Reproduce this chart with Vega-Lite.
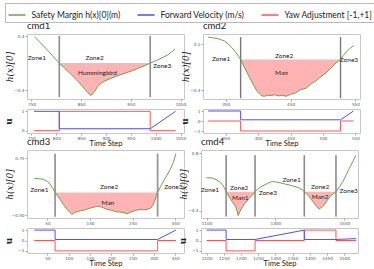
{
"$schema": "https://vega.github.io/schema/vega-lite/v6.json",
"padding": {"left": 3, "top": 2, "right": 0, "bottom": 0},
"spacing": -12,
"datasets": {
"g": [
{"p":"cmd1","t":756,"h":0.39},{"p":"cmd1","t":768,"h":0.3},{"p":"cmd1","t":781,"h":0.2},{"p":"cmd1","t":794,"h":0.095},
{"p":"cmd1","t":806,"h":0,"z":"a"},{"p":"cmd1","t":816,"h":-0.07,"z":"a"},{"p":"cmd1","t":828,"h":-0.155,"z":"a"},{"p":"cmd1","t":840,"h":-0.24,"z":"a"},
{"p":"cmd1","t":851,"h":-0.33,"z":"a"},{"p":"cmd1","t":859,"h":-0.4,"z":"a"},{"p":"cmd1","t":864,"h":-0.44,"z":"a"},{"p":"cmd1","t":870,"h":-0.48,"z":"a"},
{"p":"cmd1","t":876,"h":-0.43,"z":"a"},{"p":"cmd1","t":883,"h":-0.35,"z":"a"},{"p":"cmd1","t":891,"h":-0.29,"z":"a"},{"p":"cmd1","t":902,"h":-0.25,"z":"a"},
{"p":"cmd1","t":914,"h":-0.215,"z":"a"},{"p":"cmd1","t":926,"h":-0.18,"z":"a"},{"p":"cmd1","t":940,"h":-0.145,"z":"a"},{"p":"cmd1","t":954,"h":-0.11,"z":"a"},
{"p":"cmd1","t":967,"h":-0.07,"z":"a"},{"p":"cmd1","t":979,"h":-0.035,"z":"a"},{"p":"cmd1","t":989,"h":0,"z":"a"},
{"p":"cmd1","t":1000,"h":0.035},{"p":"cmd1","t":1012,"h":0.075},{"p":"cmd1","t":1024,"h":0.12},{"p":"cmd1","t":1032,"h":0.165},{"p":"cmd1","t":1039,"h":0.21},
{"p":"cmd2","t":323,"h":0.29},{"p":"cmd2","t":338,"h":0.27},{"p":"cmd2","t":348,"h":0.24},{"p":"cmd2","t":354,"h":0.2},{"p":"cmd2","t":360,"h":0.15},{"p":"cmd2","t":365,"h":0.1},{"p":"cmd2","t":370,"h":0.04},
{"p":"cmd2","t":373,"h":0,"z":"a"},{"p":"cmd2","t":380,"h":-0.12,"z":"a"},{"p":"cmd2","t":388,"h":-0.25,"z":"a"},{"p":"cmd2","t":393,"h":-0.33,"z":"a"},{"p":"cmd2","t":398,"h":-0.405,"z":"a"},
{"p":"cmd2","t":403,"h":-0.45,"z":"a"},{"p":"cmd2","t":406,"h":-0.47,"z":"a"},{"p":"cmd2","t":410,"h":-0.475,"z":"a"},{"p":"cmd2","t":415,"h":-0.46,"z":"a"},{"p":"cmd2","t":420,"h":-0.465,"z":"a"},
{"p":"cmd2","t":426,"h":-0.455,"z":"a"},{"p":"cmd2","t":432,"h":-0.47,"z":"a"},{"p":"cmd2","t":437,"h":-0.46,"z":"a"},{"p":"cmd2","t":443,"h":-0.475,"z":"a"},{"p":"cmd2","t":450,"h":-0.45,"z":"a"},
{"p":"cmd2","t":458,"h":-0.43,"z":"a"},{"p":"cmd2","t":465,"h":-0.39,"z":"a"},{"p":"cmd2","t":474,"h":-0.37,"z":"a"},{"p":"cmd2","t":482,"h":-0.31,"z":"a"},{"p":"cmd2","t":490,"h":-0.27,"z":"a"},
{"p":"cmd2","t":497,"h":-0.22,"z":"a"},{"p":"cmd2","t":505,"h":-0.17,"z":"a"},{"p":"cmd2","t":512,"h":-0.11,"z":"a"},{"p":"cmd2","t":518,"h":-0.06,"z":"a"},{"p":"cmd2","t":523,"h":-0.025,"z":"a"},
{"p":"cmd2","t":527,"h":0,"z":"a"},{"p":"cmd2","t":531,"h":0.05},{"p":"cmd2","t":536,"h":0.1},{"p":"cmd2","t":541,"h":0.14},{"p":"cmd2","t":547,"h":0.18},
{"p":"cmd3","t":19,"h":0.31},{"p":"cmd3","t":30,"h":0.3},{"p":"cmd3","t":40,"h":0.29},{"p":"cmd3","t":50,"h":0.24},{"p":"cmd3","t":56,"h":0.18},{"p":"cmd3","t":62,"h":0.1},
{"p":"cmd3","t":68,"h":0,"z":"a"},{"p":"cmd3","t":75,"h":-0.09,"z":"a"},{"p":"cmd3","t":82,"h":-0.18,"z":"a"},{"p":"cmd3","t":88,"h":-0.27,"z":"a"},{"p":"cmd3","t":95,"h":-0.36,"z":"a"},
{"p":"cmd3","t":102,"h":-0.43,"z":"a"},{"p":"cmd3","t":108,"h":-0.48,"z":"a"},{"p":"cmd3","t":114,"h":-0.44,"z":"a"},{"p":"cmd3","t":120,"h":-0.42,"z":"a"},{"p":"cmd3","t":128,"h":-0.4,"z":"a"},
{"p":"cmd3","t":135,"h":-0.39,"z":"a"},{"p":"cmd3","t":145,"h":-0.36,"z":"a"},{"p":"cmd3","t":155,"h":-0.33,"z":"a"},{"p":"cmd3","t":165,"h":-0.31,"z":"a"},{"p":"cmd3","t":174,"h":-0.31,"z":"a"},
{"p":"cmd3","t":182,"h":-0.34,"z":"a"},{"p":"cmd3","t":190,"h":-0.37,"z":"a"},{"p":"cmd3","t":200,"h":-0.39,"z":"a"},{"p":"cmd3","t":210,"h":-0.42,"z":"a"},{"p":"cmd3","t":220,"h":-0.43,"z":"a"},
{"p":"cmd3","t":230,"h":-0.44,"z":"a"},{"p":"cmd3","t":237,"h":-0.47,"z":"a"},{"p":"cmd3","t":244,"h":-0.44,"z":"a"},{"p":"cmd3","t":252,"h":-0.41,"z":"a"},{"p":"cmd3","t":260,"h":-0.39,"z":"a"},
{"p":"cmd3","t":268,"h":-0.37,"z":"a"},{"p":"cmd3","t":276,"h":-0.38,"z":"a"},{"p":"cmd3","t":284,"h":-0.37,"z":"a"},{"p":"cmd3","t":292,"h":-0.35,"z":"a"},{"p":"cmd3","t":298,"h":-0.28,"z":"a"},
{"p":"cmd3","t":302,"h":-0.19,"z":"a"},{"p":"cmd3","t":306,"h":-0.09,"z":"a"},{"p":"cmd3","t":309,"h":0,"z":"a"},
{"p":"cmd3","t":316,"h":0.13},{"p":"cmd3","t":323,"h":0.25},{"p":"cmd3","t":331,"h":0.38},{"p":"cmd3","t":339,"h":0.51},{"p":"cmd3","t":346,"h":0.66},{"p":"cmd3","t":352,"h":0.85},
{"p":"cmd4","t":1100,"h":0.29},{"p":"cmd4","t":1110,"h":0.29},{"p":"cmd4","t":1118,"h":0.28},{"p":"cmd4","t":1128,"h":0.25},{"p":"cmd4","t":1137,"h":0.21},{"p":"cmd4","t":1147,"h":0.14},{"p":"cmd4","t":1152,"h":0.08},
{"p":"cmd4","t":1157,"h":0,"z":"a"},{"p":"cmd4","t":1164,"h":-0.09,"z":"a"},{"p":"cmd4","t":1171,"h":-0.17,"z":"a"},{"p":"cmd4","t":1178,"h":-0.24,"z":"a"},{"p":"cmd4","t":1184,"h":-0.31,"z":"a"},
{"p":"cmd4","t":1189,"h":-0.41,"z":"a"},{"p":"cmd4","t":1192,"h":-0.5,"z":"a"},{"p":"cmd4","t":1197,"h":-0.42,"z":"a"},{"p":"cmd4","t":1205,"h":-0.31,"z":"a"},{"p":"cmd4","t":1214,"h":-0.22,"z":"a"},
{"p":"cmd4","t":1224,"h":-0.14,"z":"a"},{"p":"cmd4","t":1233,"h":-0.07,"z":"a"},{"p":"cmd4","t":1241,"h":0,"z":"a"},
{"p":"cmd4","t":1250,"h":0.06},{"p":"cmd4","t":1258,"h":0.1},{"p":"cmd4","t":1268,"h":0.14},{"p":"cmd4","t":1278,"h":0.175},{"p":"cmd4","t":1286,"h":0.2},{"p":"cmd4","t":1292,"h":0.21},
{"p":"cmd4","t":1300,"h":0.205},{"p":"cmd4","t":1311,"h":0.19},{"p":"cmd4","t":1325,"h":0.165},{"p":"cmd4","t":1340,"h":0.14},{"p":"cmd4","t":1350,"h":0.12},{"p":"cmd4","t":1360,"h":0.1},
{"p":"cmd4","t":1368,"h":0.08},{"p":"cmd4","t":1374,"h":0.055},{"p":"cmd4","t":1379,"h":0.03},
{"p":"cmd4","t":1384,"h":0,"z":"b"},{"p":"cmd4","t":1391,"h":-0.05,"z":"b"},{"p":"cmd4","t":1398,"h":-0.1,"z":"b"},{"p":"cmd4","t":1405,"h":-0.17,"z":"b"},{"p":"cmd4","t":1413,"h":-0.24,"z":"b"},
{"p":"cmd4","t":1420,"h":-0.31,"z":"b"},{"p":"cmd4","t":1427,"h":-0.36,"z":"b"},{"p":"cmd4","t":1434,"h":-0.33,"z":"b"},{"p":"cmd4","t":1442,"h":-0.28,"z":"b"},{"p":"cmd4","t":1450,"h":-0.19,"z":"b"},
{"p":"cmd4","t":1459,"h":-0.1,"z":"b"},{"p":"cmd4","t":1467,"h":-0.05,"z":"b"},{"p":"cmd4","t":1476,"h":0,"z":"b"},
{"p":"cmd4","t":1486,"h":0.1},{"p":"cmd4","t":1496,"h":0.21},{"p":"cmd4","t":1505,"h":0.34},{"p":"cmd4","t":1515,"h":0.49},{"p":"cmd4","t":1525,"h":0.63},{"p":"cmd4","t":1534,"h":0.76}
],
"u": [
{"p":"cmd1","s":"Y","i":1,"t":755,"v":0},{"p":"cmd1","s":"Y","i":2,"t":806,"v":0},{"p":"cmd1","s":"Y","i":3,"t":806,"v":1},{"p":"cmd1","s":"Y","i":4,"t":989,"v":1},{"p":"cmd1","s":"Y","i":5,"t":989,"v":0},{"p":"cmd1","s":"Y","i":6,"t":1040,"v":0},
{"p":"cmd1","s":"F","i":7,"t":755,"v":1},{"p":"cmd1","s":"F","i":8,"t":806,"v":1},{"p":"cmd1","s":"F","i":9,"t":806,"v":0.1},{"p":"cmd1","s":"F","i":10,"t":989,"v":0.1},{"p":"cmd1","s":"F","i":11,"t":1040,"v":1},
{"p":"cmd2","s":"Y","i":1,"t":323,"v":0},{"p":"cmd2","s":"Y","i":2,"t":373,"v":0},{"p":"cmd2","s":"Y","i":3,"t":373,"v":-1},{"p":"cmd2","s":"Y","i":4,"t":527,"v":-1},{"p":"cmd2","s":"Y","i":5,"t":527,"v":0},{"p":"cmd2","s":"Y","i":6,"t":547,"v":0},
{"p":"cmd2","s":"F","i":7,"t":323,"v":1},{"p":"cmd2","s":"F","i":8,"t":373,"v":1},{"p":"cmd2","s":"F","i":9,"t":373,"v":0.12},{"p":"cmd2","s":"F","i":10,"t":527,"v":0.12},{"p":"cmd2","s":"F","i":11,"t":547,"v":1},
{"p":"cmd3","s":"Y","i":1,"t":19,"v":0},{"p":"cmd3","s":"Y","i":2,"t":68,"v":0},{"p":"cmd3","s":"Y","i":3,"t":68,"v":-1},{"p":"cmd3","s":"Y","i":4,"t":309,"v":-1},{"p":"cmd3","s":"Y","i":5,"t":309,"v":0},{"p":"cmd3","s":"Y","i":6,"t":352,"v":0},
{"p":"cmd3","s":"F","i":7,"t":19,"v":1},{"p":"cmd3","s":"F","i":8,"t":68,"v":1},{"p":"cmd3","s":"F","i":9,"t":68,"v":0.1},{"p":"cmd3","s":"F","i":10,"t":309,"v":0.1},{"p":"cmd3","s":"F","i":11,"t":352,"v":1},
{"p":"cmd4","s":"Y","i":1,"t":1100,"v":0},{"p":"cmd4","s":"Y","i":2,"t":1157,"v":0},{"p":"cmd4","s":"Y","i":3,"t":1157,"v":-1},{"p":"cmd4","s":"Y","i":4,"t":1241,"v":-1},{"p":"cmd4","s":"Y","i":5,"t":1241,"v":0},
{"p":"cmd4","s":"Y","i":6,"t":1384,"v":0},{"p":"cmd4","s":"Y","i":7,"t":1384,"v":1},{"p":"cmd4","s":"Y","i":8,"t":1476,"v":1},{"p":"cmd4","s":"Y","i":9,"t":1476,"v":0},{"p":"cmd4","s":"Y","i":10,"t":1535,"v":0},
{"p":"cmd4","s":"F","i":11,"t":1100,"v":1},{"p":"cmd4","s":"F","i":12,"t":1157,"v":1},{"p":"cmd4","s":"F","i":13,"t":1157,"v":0.1},{"p":"cmd4","s":"F","i":14,"t":1241,"v":0.1},{"p":"cmd4","s":"F","i":15,"t":1384,"v":1},
{"p":"cmd4","s":"F","i":16,"t":1384,"v":0.1},{"p":"cmd4","s":"F","i":17,"t":1476,"v":0.1},{"p":"cmd4","s":"F","i":18,"t":1535,"v":0.18}
],
"zn": [
{"p":"cmd1","t":806,"y1":0.4,"y2":-0.5},{"p":"cmd1","t":989,"y1":0.4,"y2":-0.5},
{"p":"cmd2","t":373,"y1":0.29,"y2":-0.5},{"p":"cmd2","t":527,"y1":0.29,"y2":-0.5},
{"p":"cmd3","t":68,"y1":0.85,"y2":-0.53},{"p":"cmd3","t":309,"y1":0.85,"y2":-0.53},
{"p":"cmd4","t":1157,"y1":0.76,"y2":-0.52},{"p":"cmd4","t":1241,"y1":0.76,"y2":-0.52},{"p":"cmd4","t":1384,"y1":0.76,"y2":-0.52},{"p":"cmd4","t":1476,"y1":0.76,"y2":-0.52}
],
"lb": [
{"p":"cmd1","t":761,"y":0.07,"tx":"Zone1"},{"p":"cmd1","t":877,"y":0.07,"tx":"Zone2"},{"p":"cmd1","t":1013,"y":-0.04,"tx":"Zone3"},{"p":"cmd1","t":883,"y":-0.15,"tx":"Hummingbird"},
{"p":"cmd2","t":343,"y":0.01,"tx":"Zone1"},{"p":"cmd2","t":440,"y":0.05,"tx":"Zone2"},{"p":"cmd2","t":436,"y":-0.18,"tx":"Man"},{"p":"cmd2","t":540,"y":0.0,"tx":"Zone3"},
{"p":"cmd3","t":31,"y":0.05,"tx":"Zone1"},{"p":"cmd3","t":195,"y":0.13,"tx":"Zone2"},{"p":"cmd3","t":192,"y":-0.24,"tx":"Man"},{"p":"cmd3","t":346,"y":0.13,"tx":"Zone3"},
{"p":"cmd4","t":1110,"y":0.035,"tx":"Zone1"},{"p":"cmd4","t":1195,"y":0.08,"tx":"Zone2"},{"p":"cmd4","t":1198,"y":-0.14,"tx":"Man1"},{"p":"cmd4","t":1278,"y":-0.03,"tx":"Zone3"},
{"p":"cmd4","t":1347,"y":0.24,"tx":"Zone1"},{"p":"cmd4","t":1430,"y":0.105,"tx":"Zone2"},{"p":"cmd4","t":1430,"y":-0.105,"tx":"Man2"},{"p":"cmd4","t":1513,"y":0.015,"tx":"Zone3"}
]
},
"vconcat": [
{"hconcat": [
{"vconcat": [
{"width":157,"height":65,"title":{"text":"cmd1"},
"layer":[
{"data":{"name":"g"},"transform":[{"filter":"datum.p=='cmd1' && datum.z"}],"mark":{"type":"area","color":"#ffb3b3","opacity":1},
"encoding":{"x":{"field":"t","type":"quantitative","title":null,"scale":{"domain":[741,1057],"nice":false,"zero":false},"axis":{"values":[750,800,850,900,950,1000,1050],"format":"d"}},
"y":{"field":"h","type":"quantitative","title":"h(x)[0]","scale":{"domain":[-0.53,0.43],"nice":false,"zero":false},"axis":{"values":[-0.4,-0.2,0,0.2,0.4],"format":".1f","titleFont":"DejaVu Serif","titleFontStyle":"italic","titleFontSize":9,"titlePadding":-1}},
"y2":{"datum":0},"detail":{"field":"z"}}},
{"data":{"name":"zn"},"transform":[{"filter":"datum.p=='cmd1'"}],"mark":{"type":"rule","color":"#8c8c8c","strokeWidth":1.6},
"encoding":{"x":{"field":"t","type":"quantitative","title":null},"y":{"field":"y1","type":"quantitative","title":"h(x)[0]"},"y2":{"field":"y2"}}},
{"data":{"name":"g"},"transform":[{"filter":"datum.p=='cmd1'"}],"mark":{"type":"line","strokeWidth":1},
"encoding":{"x":{"field":"t","type":"quantitative","title":null},"y":{"field":"h","type":"quantitative","title":"h(x)[0]"},
"color":{"datum":"H","type":"nominal","scale":{"domain":["H","F","Y"],"range":["#5fa84a","#4d4dff","#ff5252"]},"legend":{"title":null,"labelExpr":"datum.value=='H' ? 'Safety Margin h(x)[0](m)' : datum.value=='F' ? 'Forward Velocity (m/s)' : 'Yaw Adjustment [-1,+1]'"}}}},
{"data":{"name":"lb"},"transform":[{"filter":"datum.p=='cmd1'"}],"mark":{"type":"text","font":"Lato","fontSize":6.5,"color":"#222"},
"encoding":{"x":{"field":"t","type":"quantitative","title":null},"y":{"field":"y","type":"quantitative","title":"h(x)[0]"},"text":{"field":"tx"}}}
]},
{"width":157,"height":24,"data":{"name":"u"},"transform":[{"filter":"datum.p=='cmd1'"}],"mark":{"type":"line","strokeWidth":1},
"encoding":{"x":{"field":"t","type":"quantitative","title":"Time Step","scale":{"domain":[741,1057],"nice":false,"zero":false},"axis":{"values":[750,800,850,900,950,1000,1050],"format":"d"}},
"y":{"field":"v","type":"quantitative","title":"u","scale":{"domain":[-0.12,1.12],"nice":false,"zero":false},"axis":{"values":[0,1],"format":"d","titleFont":"DejaVu Serif","titleFontWeight":"bold","titleFontSize":9,"titlePadding":8}},
"color":{"field":"s","type":"nominal","scale":{"domain":["H","F","Y"],"range":["#5fa84a","#4d4dff","#ff5252"]},"legend":{"title":null,"labelExpr":"datum.value=='H' ? 'Safety Margin h(x)[0](m)' : datum.value=='F' ? 'Forward Velocity (m/s)' : 'Yaw Adjustment [-1,+1]'"}},
"order":{"field":"i"}}}
],"spacing":10,"bounds":"flush"},
{"vconcat": [
{"width":157,"height":65,"title":{"text":"cmd2"},
"layer":[
{"data":{"name":"g"},"transform":[{"filter":"datum.p=='cmd2' && datum.z"}],"mark":{"type":"area","color":"#ffb3b3","opacity":1},
"encoding":{"x":{"field":"t","type":"quantitative","title":null,"scale":{"domain":[315,557],"nice":false,"zero":false},"axis":{"values":[350,400,450,500,550],"format":"d"}},
"y":{"field":"h","type":"quantitative","title":"h(x)[0]","scale":{"domain":[-0.51,0.33],"nice":false,"zero":false},"axis":{"values":[-0.4,-0.2,0,0.2],"format":".1f","titleFont":"DejaVu Serif","titleFontStyle":"italic","titleFontSize":9,"titlePadding":-1}},
"y2":{"datum":0},"detail":{"field":"z"}}},
{"data":{"name":"zn"},"transform":[{"filter":"datum.p=='cmd2'"}],"mark":{"type":"rule","color":"#777","strokeWidth":1.4},
"encoding":{"x":{"field":"t","type":"quantitative","title":null},"y":{"field":"y1","type":"quantitative","title":"h(x)[0]"},"y2":{"field":"y2"}}},
{"data":{"name":"g"},"transform":[{"filter":"datum.p=='cmd2'"}],"mark":{"type":"line","strokeWidth":1},
"encoding":{"x":{"field":"t","type":"quantitative","title":null},"y":{"field":"h","type":"quantitative","title":"h(x)[0]"},
"color":{"datum":"H","type":"nominal","scale":{"domain":["H","F","Y"],"range":["#5fa84a","#4d4dff","#ff5252"]},"legend":{"title":null,"labelExpr":"datum.value=='H' ? 'Safety Margin h(x)[0](m)' : datum.value=='F' ? 'Forward Velocity (m/s)' : 'Yaw Adjustment [-1,+1]'"}}}},
{"data":{"name":"lb"},"transform":[{"filter":"datum.p=='cmd2'"}],"mark":{"type":"text","font":"Lato","fontSize":6.5,"color":"#222"},
"encoding":{"x":{"field":"t","type":"quantitative","title":null},"y":{"field":"y","type":"quantitative","title":"h(x)[0]"},"text":{"field":"tx"}}}
]},
{"width":157,"height":24,"data":{"name":"u"},"transform":[{"filter":"datum.p=='cmd2'"}],"mark":{"type":"line","strokeWidth":1},
"encoding":{"x":{"field":"t","type":"quantitative","title":"Time Step","scale":{"domain":[315,557],"nice":false,"zero":false},"axis":{"values":[350,400,450,500,550],"format":"d"}},
"y":{"field":"v","type":"quantitative","title":"u","scale":{"domain":[-1.2,1.2],"nice":false,"zero":false},"axis":{"values":[-1,0,1],"format":"d","titleFont":"DejaVu Serif","titleFontWeight":"bold","titleFontSize":9,"titlePadding":4}},
"color":{"field":"s","type":"nominal","scale":{"domain":["H","F","Y"],"range":["#5fa84a","#4d4dff","#ff5252"]},"legend":{"title":null,"labelExpr":"datum.value=='H' ? 'Safety Margin h(x)[0](m)' : datum.value=='F' ? 'Forward Velocity (m/s)' : 'Yaw Adjustment [-1,+1]'"}},
"order":{"field":"i"}}}
],"spacing":10,"bounds":"flush"}
],"spacing":-7},
{"hconcat": [
{"vconcat": [
{"width":157,"height":68,"title":{"text":"cmd3"},
"layer":[
{"data":{"name":"g"},"transform":[{"filter":"datum.p=='cmd3' && datum.z"}],"mark":{"type":"area","color":"#ffb3b3","opacity":1},
"encoding":{"x":{"field":"t","type":"quantitative","title":null,"scale":{"domain":[2,371],"nice":false,"zero":false},"axis":{"values":[50,100,150,200,250,300,350],"format":"d"}},
"y":{"field":"h","type":"quantitative","title":"h(x)[0]","scale":{"domain":[-0.56,0.93],"nice":false,"zero":false},"axis":{"values":[-0.5,-0.25,0,0.25,0.5,0.75],"format":".2f","titleFont":"DejaVu Serif","titleFontStyle":"italic","titleFontSize":9,"titlePadding":-3.7}},
"y2":{"datum":0},"detail":{"field":"z"}}},
{"data":{"name":"zn"},"transform":[{"filter":"datum.p=='cmd3'"}],"mark":{"type":"rule","color":"#999","strokeWidth":1.8},
"encoding":{"x":{"field":"t","type":"quantitative","title":null},"y":{"field":"y1","type":"quantitative","title":"h(x)[0]"},"y2":{"field":"y2"}}},
{"data":{"name":"g"},"transform":[{"filter":"datum.p=='cmd3'"}],"mark":{"type":"line","strokeWidth":1},
"encoding":{"x":{"field":"t","type":"quantitative","title":null},"y":{"field":"h","type":"quantitative","title":"h(x)[0]"},
"color":{"datum":"H","type":"nominal","scale":{"domain":["H","F","Y"],"range":["#5fa84a","#4d4dff","#ff5252"]},"legend":{"title":null,"labelExpr":"datum.value=='H' ? 'Safety Margin h(x)[0](m)' : datum.value=='F' ? 'Forward Velocity (m/s)' : 'Yaw Adjustment [-1,+1]'"}}}},
{"data":{"name":"lb"},"transform":[{"filter":"datum.p=='cmd3'"}],"mark":{"type":"text","font":"Lato","fontSize":6.5,"color":"#222"},
"encoding":{"x":{"field":"t","type":"quantitative","title":null},"y":{"field":"y","type":"quantitative","title":"h(x)[0]"},"text":{"field":"tx"}}}
]},
{"width":157,"height":25,"data":{"name":"u"},"transform":[{"filter":"datum.p=='cmd3'"}],"mark":{"type":"line","strokeWidth":1},
"encoding":{"x":{"field":"t","type":"quantitative","title":"Time Step","scale":{"domain":[2,371],"nice":false,"zero":false},"axis":{"values":[50,100,150,200,250,300,350],"format":"d"}},
"y":{"field":"v","type":"quantitative","title":"u","scale":{"domain":[-1.2,1.2],"nice":false,"zero":false},"axis":{"values":[-1,0,1],"format":"d","titleFont":"DejaVu Serif","titleFontWeight":"bold","titleFontSize":9,"titlePadding":4.5}},
"color":{"field":"s","type":"nominal","scale":{"domain":["H","F","Y"],"range":["#5fa84a","#4d4dff","#ff5252"]},"legend":{"title":null,"labelExpr":"datum.value=='H' ? 'Safety Margin h(x)[0](m)' : datum.value=='F' ? 'Forward Velocity (m/s)' : 'Yaw Adjustment [-1,+1]'"}},
"order":{"field":"i"}}}
],"spacing":10,"bounds":"flush"},
{"vconcat": [
{"width":157,"height":68,"title":{"text":"cmd4"},
"layer":[
{"data":{"name":"g"},"transform":[{"filter":"datum.p=='cmd4' && datum.z"}],"mark":{"type":"area","color":"#ffb3b3","opacity":1},
"encoding":{"x":{"field":"t","type":"quantitative","title":null,"scale":{"domain":[1084,1540],"nice":false,"zero":false},"axis":{"values":[1100,1150,1200,1250,1300,1350,1400,1450,1500],"format":"d"}},
"y":{"field":"h","type":"quantitative","title":"h(x)[0]","scale":{"domain":[-0.55,0.87],"nice":false,"zero":false},"axis":{"values":[-0.4,-0.2,0,0.2,0.4,0.6,0.8],"format":".1f","titleFont":"DejaVu Serif","titleFontStyle":"italic","titleFontSize":9,"titlePadding":-1}},
"y2":{"datum":0},"detail":{"field":"z"}}},
{"data":{"name":"zn"},"transform":[{"filter":"datum.p=='cmd4'"}],"mark":{"type":"rule","color":"#8c8c8c","strokeWidth":1.6},
"encoding":{"x":{"field":"t","type":"quantitative","title":null},"y":{"field":"y1","type":"quantitative","title":"h(x)[0]"},"y2":{"field":"y2"}}},
{"data":{"name":"g"},"transform":[{"filter":"datum.p=='cmd4'"}],"mark":{"type":"line","strokeWidth":1},
"encoding":{"x":{"field":"t","type":"quantitative","title":null},"y":{"field":"h","type":"quantitative","title":"h(x)[0]"},
"color":{"datum":"H","type":"nominal","scale":{"domain":["H","F","Y"],"range":["#5fa84a","#4d4dff","#ff5252"]},"legend":{"title":null,"labelExpr":"datum.value=='H' ? 'Safety Margin h(x)[0](m)' : datum.value=='F' ? 'Forward Velocity (m/s)' : 'Yaw Adjustment [-1,+1]'"}}}},
{"data":{"name":"lb"},"transform":[{"filter":"datum.p=='cmd4'"}],"mark":{"type":"text","font":"Lato","fontSize":6.5,"color":"#222"},
"encoding":{"x":{"field":"t","type":"quantitative","title":null},"y":{"field":"y","type":"quantitative","title":"h(x)[0]"},"text":{"field":"tx"}}}
]},
{"width":157,"height":25,"data":{"name":"u"},"transform":[{"filter":"datum.p=='cmd4'"}],"mark":{"type":"line","strokeWidth":1},
"encoding":{"x":{"field":"t","type":"quantitative","title":"Time Step","scale":{"domain":[1084,1540],"nice":false,"zero":false},"axis":{"values":[1100,1150,1200,1250,1300,1350,1400,1450,1500],"format":"d"}},
"y":{"field":"v","type":"quantitative","title":"u","scale":{"domain":[-1.2,1.2],"nice":false,"zero":false},"axis":{"values":[-1,0,1],"format":"d","titleFont":"DejaVu Serif","titleFontWeight":"bold","titleFontSize":9,"titlePadding":4}},
"color":{"field":"s","type":"nominal","scale":{"domain":["H","F","Y"],"range":["#5fa84a","#4d4dff","#ff5252"]},"legend":{"title":null,"labelExpr":"datum.value=='H' ? 'Safety Margin h(x)[0](m)' : datum.value=='F' ? 'Forward Velocity (m/s)' : 'Yaw Adjustment [-1,+1]'"}},
"order":{"field":"i"}}}
],"spacing":10,"bounds":"flush"}
],"spacing":-7}
],
"config": {
"view": {"stroke": "#c8c8c8", "strokeWidth": 1},
"axis": {"grid": false, "domain": false, "labelFont": "DejaVu Sans", "labelFontSize": 4.2, "labelColor": "#555", "tickColor": "#aaa", "tickSize": 2, "labelPadding": 1, "titleFont": "Lato", "titleFontSize": 7.5, "titleFontWeight": "normal", "titleColor": "#222", "titlePadding": -0.5},
"title": {"font": "Lato", "fontSize": 9.5, "fontWeight": "normal", "anchor": "start", "frame": "group", "offset": 0, "color": "#222"},
"legend": {"orient": "none", "legendX": -22, "legendY": -31, "direction": "horizontal", "columns": 3, "strokeColor": "#bbb", "padding": 2.5, "labelFont": "Lato", "labelFontSize": 8.5, "labelColor": "#222", "symbolType": "stroke", "symbolSize": 289, "symbolStrokeWidth": 1.5, "columnPadding": 14, "labelOffset": 5}
}
}
